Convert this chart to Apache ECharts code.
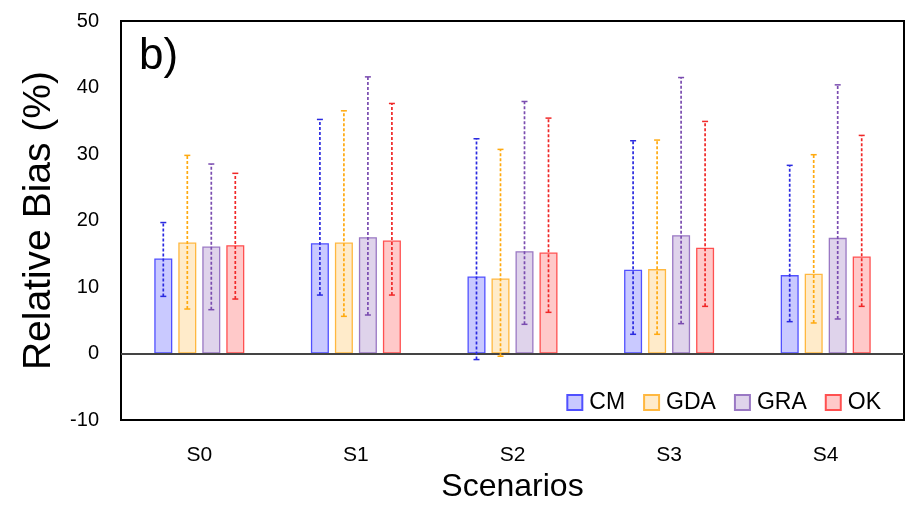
<!DOCTYPE html>
<html>
<head>
<meta charset="utf-8">
<script src="https://cdn.jsdelivr.net/npm/echarts@6/dist/echarts.min.js"></script>
<style>
	html, body { margin: 0; padding: 0; background: #fff; }
	#chart { width: 912px; height: 508px; }
</style>
</head>
<body>
<div id="chart"></div>
<script type="text/javascript">
	// data
	var categories = ['S0', 'S1', 'S2', 'S3', 'S4'];
	var seriesNames = ['CM', 'GDA', 'GRA', 'OK'];

	var cmMean = [14.3, 16.6, 11.6, 12.6, 11.8];
	var cmHigh = [19.7, 35.2, 32.3, 32.0, 28.3];
	var cmLow = [8.6, 8.8, -0.9, 2.9, 4.8];

	var gdaMean = [16.7, 16.7, 11.3, 12.7, 12.0];
	var gdaHigh = [29.8, 36.5, 30.7, 32.1, 29.9];
	var gdaLow = [6.7, 5.6, -0.4, 2.9, 4.6];

	var graMean = [16.1, 17.5, 15.4, 17.8, 17.4];
	var graHigh = [28.5, 41.6, 37.9, 41.5, 40.4];
	var graLow = [6.6, 5.8, 4.4, 4.5, 5.2];

	var okMean = [16.3, 17.0, 15.2, 15.9, 14.6];
	var okHigh = [27.1, 37.6, 35.4, 34.9, 32.8];
	var okLow = [8.2, 8.8, 6.2, 7.1, 7.1];

	var yTicks = [-10, 0, 10, 20, 30, 40, 50];

	var means = [cmMean, gdaMean, graMean, okMean];
	var highs = [cmHigh, gdaHigh, graHigh, okHigh];
	var lows = [cmLow, gdaLow, graLow, okLow];

	var fills = ['rgba(60,60,255,0.28)', 'rgba(255,190,80,0.3)', 'rgba(150,110,190,0.3)', 'rgba(255,60,60,0.28)'];
	var borders = ['#5050ff', '#ffb840', '#9a78c4', '#ff5050'];
	var errColors = ['#2a2ae0', '#ffaa10', '#7a4cb0', '#f02828'];

	var font = 'Liberation Sans, Arial, sans-serif';
	var barW = 18;
	var barPitch = 24;

	var chart = echarts.init(document.getElementById('chart'));

	var series = [];
	seriesNames.forEach(function (name, i) {
		series.push({
			name: name,
			type: 'bar',
			data: means[i],
			barWidth: barW,
			barGap: ((barPitch - barW) / barW * 100) + '%',
			itemStyle: { color: fills[i], borderColor: borders[i], borderWidth: 1.3 },
			z: 2
		});
	});
	// error bars
	seriesNames.forEach(function (name, i) {
		var errData = categories.map(function (c, k) {
			return [k, lows[i][k], highs[i][k]];
		});
		series.push({
			name: name + ' err',
			type: 'custom',
			data: errData,
			z: 5,
			silent: true,
			encode: { x: 0, y: [1, 2] },
			renderItem: function (params, api) {
				var k = api.value(0);
				var lo = api.coord([k, api.value(1)]);
				var hi = api.coord([k, api.value(2)]);
				var x = lo[0] + (i - 1.5) * barPitch;
				var capW = 3;
				var st = { stroke: errColors[i], lineWidth: 1.7, lineDash: [3, 2] };
				return {
					type: 'group',
					children: [
						{ type: 'line', shape: { x1: x, y1: lo[1], x2: x, y2: hi[1] }, style: st },
						{ type: 'line', shape: { x1: x - capW, y1: hi[1], x2: x + capW, y2: hi[1] }, style: { stroke: errColors[i], lineWidth: 1.5 } },
						{ type: 'line', shape: { x1: x - capW, y1: lo[1], x2: x + capW, y2: lo[1] }, style: { stroke: errColors[i], lineWidth: 1.5 } }
					]
				};
			}
		});
	});
	// zero line
	series[0].markLine = {
		silent: true,
		symbol: 'none',
		label: { show: false },
		lineStyle: { color: '#444', width: 1.8, type: 'solid' },
		data: [{ yAxis: 0 }]
	};

	chart.setOption({
		animation: false,
		backgroundColor: '#fff',
		title: {
			text: 'b)',
			left: 134,
			top: 30,
			textStyle: { fontFamily: font, fontSize: 44, fontWeight: 'normal', color: '#000' }
		},
		legend: {
			data: seriesNames,
			right: 26,
			top: 386,
			icon: 'rect',
			itemWidth: 15,
			itemHeight: 15,
			itemGap: 18,
			textStyle: { fontFamily: font, fontSize: 23, color: '#000', padding: [0, 0, 0, 2] }
		},
		grid: {
			left: 121,
			right: 8,
			top: 21,
			bottom: 84,
			show: true,
			borderColor: '#000',
			borderWidth: 2,
			backgroundColor: 'transparent'
		},
		xAxis: {
			type: 'category',
			data: categories,
			name: 'Scenarios',
			nameLocation: 'middle',
			nameGap: 47,
			nameTextStyle: { fontFamily: font, fontSize: 32, color: '#000' },
			axisLine: { show: false },
			axisTick: { show: false },
			axisLabel: { fontFamily: font, fontSize: 21, color: '#000', margin: 25 }
		},
		yAxis: {
			type: 'value',
			min: yTicks[0],
			max: yTicks[yTicks.length - 1],
			interval: 10,
			name: 'Relative Bias (%)',
			nameLocation: 'middle',
			nameGap: 58,
			nameTextStyle: { fontFamily: font, fontSize: 39, color: '#000' },
			axisLine: { show: false },
			axisTick: { show: false },
			splitLine: { show: false },
			axisLabel: { fontFamily: font, fontSize: 20, color: '#000', margin: 22 }
		},
		series: series
	});
</script>
</body>
</html>
